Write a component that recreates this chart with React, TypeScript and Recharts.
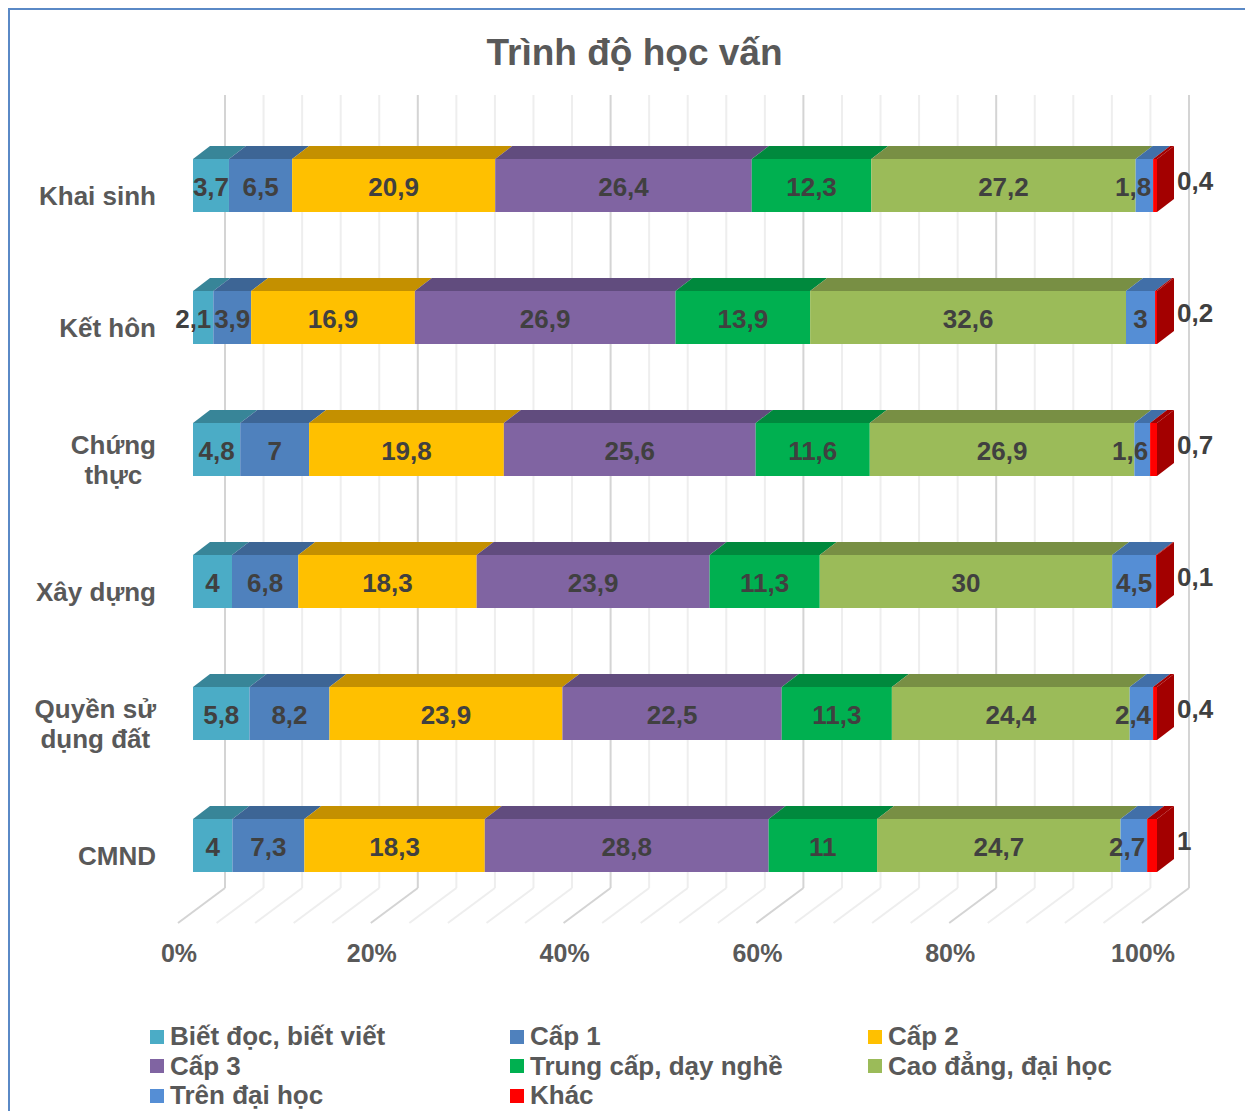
import React from 'react';
import { BarChart, Bar, XAxis, YAxis, CartesianGrid, Legend, LabelList } from 'recharts';

const categories = ['Khai sinh', 'Kết hôn', 'Chứng thực', 'Xây dựng', 'Quyền sử dụng đất', 'CMND'];

const seriesKeys = ['bietDoc', 'cap1', 'cap2', 'cap3', 'trungCap', 'caoDang', 'trenDaiHoc', 'khac'];
const seriesNames = [
  'Biết đọc, biết viết',
  'Cấp 1',
  'Cấp 2',
  'Cấp 3',
  'Trung cấp, dạy nghề',
  'Cao đẳng, đại học',
  'Trên đại học',
  'Khác',
];

const bietDoc = [3.7, 2.1, 4.8, 4, 5.8, 4];
const cap1 = [6.5, 3.9, 7, 6.8, 8.2, 7.3];
const cap2 = [20.9, 16.9, 19.8, 18.3, 23.9, 18.3];
const cap3 = [26.4, 26.9, 25.6, 23.9, 22.5, 28.8];
const trungCap = [12.3, 13.9, 11.6, 11.3, 11.3, 11];
const caoDang = [27.2, 32.6, 26.9, 30, 24.4, 24.7];
const trenDaiHoc = [1.8, 3, 1.6, 4.5, 2.4, 2.7];
const khac = [0.4, 0.2, 0.7, 0.1, 0.4, 1];

// grid every 4%, labels every 20%
const gridTicks = [0, 4, 8, 12, 16, 20, 24, 28, 32, 36, 40, 44, 48, 52, 56, 60, 64, 68, 72, 76, 80, 84, 88, 92, 96, 100];
const majorTicks = [0, 20, 40, 60, 80, 100];

const seriesValues = [bietDoc, cap1, cap2, cap3, trungCap, caoDang, trenDaiHoc, khac];

const data = categories.map((name, r) => {
  const row: Record<string, any> = { name };
  seriesKeys.forEach((k, i) => {
    row[k] = seriesValues[i][r];
  });
  return row;
});

const frontColors = ['#4BACC6', '#4F81BD', '#FFC000', '#8064A2', '#00B050', '#9BBB59', '#558ED5', '#FF0000'];
const topColors = ['#388598', '#3D6595', '#C49000', '#614C7E', '#00893D', '#788F44', '#416FA8', '#A30000'];

const FONT = '"Liberation Sans", Arial, sans-serif';
const DX = 17;
const DY = 13;
const LABEL_SIZE = 26;

let ctx: CanvasRenderingContext2D | null = null;
function measure(text: string, size: number) {
  if (!ctx) ctx = document.createElement('canvas').getContext('2d');
  if (!ctx) return text.length * size * 0.55;
  ctx.font = `bold ${size}px ${FONT}`;
  return ctx.measureText(text).width;
}

function wrap(text: string, maxW: number, size: number) {
  const words = text.split(' ');
  const lines: string[] = [];
  let cur = '';
  words.forEach((w) => {
    const next = cur ? cur + ' ' + w : w;
    if (cur && measure(next, size) > maxW) {
      lines.push(cur);
      cur = w;
    } else {
      cur = next;
    }
  });
  if (cur) lines.push(cur);
  return lines;
}

const make3DShape = (i: number) => (props: any) => {
  const { x, y, width, height } = props;
  if (x == null || y == null) return <g />;
  const w = Math.max(width, 0);
  const last = i === seriesKeys.length - 1;
  return (
    <g>
      <polygon
        points={`${x},${y} ${x + DX},${y - DY} ${x + w + DX},${y - DY} ${x + w},${y}`}
        fill={topColors[i]}
      />
      <rect x={x} y={y} width={w} height={height} fill={frontColors[i]} />
      {last && (
        <polygon
          points={`${x + w},${y} ${x + w + DX},${y - DY} ${x + w + DX},${y + height - DY} ${x + w},${y + height}`}
          fill={topColors[i]}
        />
      )}
    </g>
  );
};

const makeLabel = (i: number) => (p: any) => {
  const vb = p.viewBox || p;
  const { x, y, width, height } = vb;
  const text = String(p.value).replace('.', ',');
  const last = i === seriesKeys.length - 1;
  const common = {
    dominantBaseline: 'central' as const,
    fontFamily: FONT,
    fontWeight: 'bold',
    fontSize: LABEL_SIZE,
    fill: '#404040',
  };
  if (last) {
    return (
      <text x={x + width + DX + 3} y={y + height / 2 - 5} {...common}>
        {text}
      </text>
    );
  }
  // like Excel: a label much wider than its segment sits flush with the segment's end
  const tw = measure(text, LABEL_SIZE);
  if (tw > width + 6) {
    return (
      <text x={x + width - 2} y={y + height / 2 + 1} textAnchor="end" {...common}>
        {text}
      </text>
    );
  }
  return (
    <text x={x + width / 2} y={y + height / 2 + 1} textAnchor="middle" {...common}>
      {text}
    </text>
  );
};

const GridLine = (props: any) => {
  const { x1, y1, y2, index } = props;
  const major = index % 5 === 0;
  const stroke = major ? '#D4D4D4' : '#EEEEEE';
  const wx = x1 + 32;
  const wallTop = y1 - 24;
  const floorBack = y2 - 23;
  const floorFront = y2 + 12;
  return (
    <g key={props.key}>
      <line x1={wx} y1={wallTop} x2={wx} y2={floorBack} stroke={stroke} strokeWidth={2} />
      <line x1={wx} y1={floorBack} x2={wx - 47} y2={floorFront} stroke={stroke} strokeWidth={2} />
    </g>
  );
};

const CategoryTick = (p: any) => {
  const { x, y, payload } = p;
  const size = 26;
  const lines = wrap(payload.value, 132, size);
  const maxW = Math.max(...lines.map((l) => measure(l, size)));
  const cx = x - 37 - maxW / 2;
  const y0 = y + 11 - ((lines.length - 1) * 30) / 2;
  return (
    <text
      x={cx}
      y={y0}
      textAnchor="middle"
      dominantBaseline="central"
      fontFamily={FONT}
      fontWeight="bold"
      fontSize={size}
      fill="#595959"
    >
      {lines.map((l, k) => (
        <tspan key={k} x={cx} dy={k === 0 ? 0 : 30}>
          {l}
        </tspan>
      ))}
    </text>
  );
};

const PercentTick = (p: any) => {
  const { x, y, payload } = p;
  const pct = Math.round(payload.value * 100);
  if (!majorTicks.includes(pct)) return <g />;
  return (
    <text
      x={x - 14}
      y={y + 42}
      textAnchor="middle"
      dominantBaseline="central"
      fontFamily={FONT}
      fontWeight="bold"
      fontSize={25}
      fill="#595959"
    >
      {pct}%
    </text>
  );
};

const LegendContent = (props: any) => {
  const payload = [...(props.payload || [])].sort(
    (a: any, b: any) => seriesKeys.indexOf(a.dataKey) - seriesKeys.indexOf(b.dataKey)
  );
  return (
    <div
      style={{
        display: 'grid',
        gridTemplateColumns: '360px 358px 340px',
        gridAutoRows: '29.5px',
        paddingLeft: 150,
        height: 90,
        fontFamily: FONT,
        fontWeight: 'bold',
        fontSize: 26,
        color: '#595959',
      }}
    >
      {payload.map((e: any, i: number) => (
        <div key={i} style={{ display: 'flex', alignItems: 'center', whiteSpace: 'nowrap' }}>
          <span style={{ width: 14, height: 14, background: e.color, marginRight: 6, flex: 'none' }} />
          <span>{e.value}</span>
        </div>
      ))}
    </div>
  );
};

export default function App() {
  return (
    <div
      style={{
        position: 'absolute',
        left: 0,
        top: 0,
        width: 1245,
        height: 1111,
        overflow: 'hidden',
        background: '#FFFFFF',
      }}
    >
      <div
        style={{
          position: 'absolute',
          left: 8,
          top: 8,
          width: 1400,
          height: 1300,
          border: '2px solid #5A89C6',
        }}
      />
      <div
        style={{
          position: 'absolute',
          left: 0,
          width: 1245,
          top: 34,
          textAlign: 'center',
          paddingLeft: 24,
          boxSizing: 'border-box',
          fontFamily: FONT,
          fontWeight: 'bold',
          fontSize: 37,
          lineHeight: '37px',
          color: '#595959',
        }}
      >
        Trình độ học vấn
      </div>
      <div style={{ position: 'absolute', left: 0, top: 0 }}>
        <BarChart
          width={1245}
          height={1111}
          data={data}
          layout="vertical"
          stackOffset="expand"
          barSize={53}
          margin={{ top: 119, right: 88, bottom: 80, left: 0 }}
        >
          <CartesianGrid horizontal={false} vertical={GridLine} />
          <XAxis
            type="number"
            domain={[0, 1]}
            ticks={gridTicks.map((t) => t / 100)}
            interval={0}
            tick={PercentTick}
            tickLine={false}
            axisLine={false}
            tickSize={0}
            tickMargin={0}
            height={30}
          />
          <YAxis
            type="category"
            dataKey="name"
            width={193}
            tick={CategoryTick}
            tickLine={false}
            axisLine={false}
            tickSize={0}
            tickMargin={0}
            interval={0}
          />
          <Legend
            verticalAlign="bottom"
            content={LegendContent}
            wrapperStyle={{ top: 1022, bottom: 'auto', left: 0, width: 1245, height: 90 }}
          />
          {seriesKeys.map((k, i) => (
            <Bar
              key={k}
              dataKey={k}
              name={seriesNames[i]}
              stackId="a"
              fill={frontColors[i]}
              shape={make3DShape(i)}
              isAnimationActive={false}
            >
              <LabelList dataKey={k} content={makeLabel(i)} />
            </Bar>
          ))}
        </BarChart>
      </div>
    </div>
  );
}
